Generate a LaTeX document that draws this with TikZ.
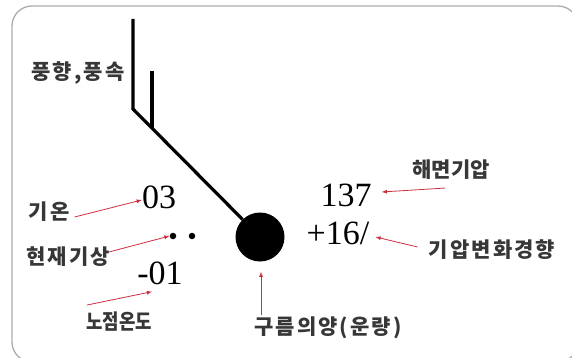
\documentclass[tikz,border=0pt]{standalone}
\usepackage{fontspec}
\setmainfont{Liberation Serif}
\newfontfamily\kor{Noto Sans CJK KR}
\usetikzlibrary{calc}
\usetikzlibrary{arrows}
\definecolor{framegray}{RGB}{172,172,172}
\definecolor{arrowred}{RGB}{205,45,60}
\definecolor{labelgray}{RGB}{55,55,55}

\begin{document}
\begin{tikzpicture}[x=1pt, y=-1pt,
    korlabel/.style={inner sep=0pt, text=labelgray, font=\kor\bfseries\fontsize{21}{24}\selectfont\addfontfeatures{LetterSpace=10}},
    kornarrow/.style={korlabel, font=\kor\bfseries\fontsize{21}{24}\selectfont\addfontfeatures{FakeStretch=#1}},
    num/.style={inner sep=0pt, font=\fontsize{34}{40}\selectfont},
    pointer/.style={arrowred, line width=0.8pt, -latex},
    barb/.style={line width=3.2pt},
    wxdot/.style={circle, fill, inner sep=0pt, minimum size=6.5pt}]
    \useasboundingbox (0,0) rectangle (572,358);
    \clip (0,0) rectangle (572,358);
    \draw[framegray, line width=1.3pt, rounded corners=20pt] (12,6) rectangle (578,362);

    % station circle and wind barb
    \node[circle, fill, inner sep=0pt, minimum size=49pt] (cloud) at (260,237) {};
    \coordinate (stafftop) at (133,19);
    \coordinate (knee) at (133,109);
    \coordinate (barbfoot) at ($(knee)!0.15!(cloud)$);
    \coordinate (barbtop) at (barbfoot |- 0,71);
    \draw[barb] (stafftop) -- (knee) -- (cloud);
    \draw[barb] (barbtop) -- (barbfoot);

    % values round the station
    \node[num] (t03) at (159,197) {03};
    \node[wxdot] (wx1) at (173,236) {};
    \node[wxdot] (wx2) at (192,236) {};
    \node[num] (td) at (160,273) {-01};
    \node[num] (p137) at (346,195) {137};
    \node[num] (ptend) at (338,233) {+16/};

    % labels
    \node[korlabel] (lblwind) at (78,73) {풍향,풍속};
    \node[korlabel] (lbltemp) at (49,212) {기온};
    \node[korlabel] (lblwx) at (68,257) {현재기상};
    \node[kornarrow=0.85] (lbltd) at (119,322) {노점온도};
    \node[kornarrow=1] (lblp) at (451,170) {해면기압};
    \node[korlabel] (lblptend) at (492,250) {기압변화경향};
    \node[korlabel] (lblcloud) at (328,328) {구름의양(운량)};

    % pointers
    \draw[pointer] ([xshift=5pt,yshift=-5pt]lbltemp.east) -- ([yshift=-3pt]t03.west);
    \draw[pointer] ([xshift=-1pt,yshift=5pt]lblwx.east) -- (wx1.west);
    \draw[pointer] ([xshift=1pt,yshift=7pt]lbltd.north west) -- ([xshift=-8pt,yshift=-7pt]td.south);
    \draw[pointer] ([xshift=-6pt,yshift=-8pt]lblp.south) -- ([xshift=10pt,yshift=3pt]p137.east);
    \draw[pointer] ([xshift=-11pt,yshift=3pt]lblptend.west) -- ([xshift=6pt,yshift=-4pt]ptend.east);
    \draw[pointer] ([xshift=1pt,yshift=2pt]lblcloud.north -| cloud.south) -- ([xshift=1pt,yshift=-10pt]cloud.south);
\end{tikzpicture}
\end{document}
